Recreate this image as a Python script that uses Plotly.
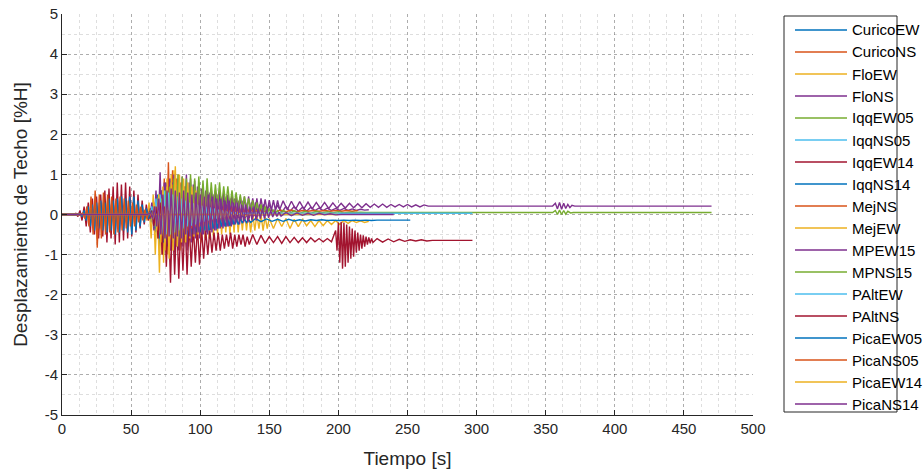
import plotly.graph_objects as go

# ---- data -------------------------------------------------------------------
# Each record: regular segments (t_start, dt, values) + sparse knots (t, value)
series_names = ["CuricoEW", "CuricoNS", "FloEW", "FloNS", "IqqEW05", "IqqNS05",
                "IqqEW14", "IqqNS14", "MejNS", "MejEW", "MPEW15", "MPNS15",
                "PAltEW", "PAltNS", "PicaEW05", "PicaNS05", "PicaEW14", "PicaNS14"]

CuricoEW = dict(segs=[(60, 1.5, [0.05,-0.08,0.15,-0.2,0.3,-0.45,0.5,-0.8,0.6,-1.0,0.7,-0.9,0.55,-0.7,0.6,-0.8,0.5,-0.6,0.45,-0.55,0.4,-0.5,0.35,-0.45,0.3,-0.4,0.3,-0.35,0.25,-0.3,0.2,-0.3,0.2,-0.25,0.15,-0.2,0.15,-0.2,0.1,-0.15,0.1,-0.12,0.08,-0.1,0.05,-0.08,0.05,-0.06,0.03,-0.04])],
                knots=[(0, 0.0), (58, 0.0), (136, 0.0), (180, 0.0)])

CuricoNS = dict(segs=[(62, 1.5, [0.05,-0.1,0.2,-0.3,0.45,-0.6,0.7,-1.0,0.9,-0.8,1.3,-0.9,1.1,-0.7,0.9,-0.6,0.8,-0.5,0.7,-0.5,0.6,-0.45,0.5,-0.4,0.45,-0.35,0.4,-0.3,0.35,-0.3,0.3,-0.25,0.25,-0.2,0.25,-0.2,0.2,-0.15,0.2,-0.12,0.15,-0.1,0.12,-0.08,0.1,-0.06,0.08,-0.05,0.06,-0.04,0.05,-0.03])],
                knots=[(0, 0.0), (60, 0.0), (141, 0.02), (180, 0.02)])

FloEW = dict(segs=[(60, 1.5, [0.05,-0.15,0.3,-0.6,0.5,-1.0,0.4,-1.45,0.6,-1.2,0.8,-1.0,0.9,-0.9,1.1,-0.8,1.0,-0.9,0.8,-0.7,0.7,-0.8,0.6,-0.7,0.6,-0.6,0.5,-0.7,0.5,-0.6,0.45,-0.6,0.4,-0.55,0.35,-0.5,0.3,-0.5,0.3,-0.45,0.25,-0.5,0.2,-0.45,0.2,-0.45,0.15,-0.4,0.1,-0.4,0.05,-0.45,0.05,-0.4,0.0,-0.35,0.0,-0.4,-0.05,-0.35]),
                   (150, 3.0, [-0.1,-0.35,-0.1,-0.3,-0.1,-0.35,-0.12,-0.3,-0.12,-0.28,-0.15,-0.3,-0.15,-0.28,-0.15,-0.25,-0.15,-0.25,-0.15,-0.22,-0.15,-0.2,-0.16,-0.2,-0.17])],
             knots=[(0, 0.0), (58, 0.0)])

FloNS = dict(segs=[(62, 1.5, [0.05,-0.1,0.3,-0.4,0.6,-0.5,1.05,-0.7,0.8,-0.8,0.7,-0.9,0.8,-0.95,0.7,-0.9,0.75,-0.8,0.7,-0.9,0.8,-0.7,0.75,-0.6,0.7,-0.6,0.65,-0.5,0.6,-0.5,0.55,-0.45,0.5,-0.4,0.5,-0.35,0.45,-0.3,0.45,-0.3,0.4,-0.25,0.4,-0.2,0.35,-0.15,0.35,-0.1,0.3,-0.1,0.3,-0.05,0.3,-0.05,0.25,0.0,0.25,0.0]),
                   (150, 3.0, [0.25,0.05,0.22,0.05,0.2,0.08,0.2,0.08,0.18,0.08,0.18,0.1,0.16,0.1,0.16,0.1,0.15,0.1,0.15,0.1,0.14,0.1,0.13,0.11,0.12])],
             knots=[(0, 0.0), (60, 0.0)])

IqqEW05 = dict(segs=[(18, 1.5, [0.05,-0.1,0.15,-0.2,0.25,-0.3,0.3,-0.35,0.3,-0.3,0.35,-0.3,0.3,-0.25,0.3,-0.3,0.25,-0.2,0.2,-0.2,0.15,-0.15,0.12,-0.1,0.08,-0.06,0.05,-0.04])],
               knots=[(0, 0.0), (16, 0.0), (62, 0.0), (100, 0.0)])

IqqNS05 = dict(segs=[(19, 1.5, [0.04,-0.08,0.12,-0.18,0.22,-0.28,0.3,-0.25,0.28,-0.3,0.25,-0.28,0.3,-0.22,0.25,-0.2,0.22,-0.2,0.18,-0.15,0.12,-0.12,0.1,-0.08,0.06,-0.04])],
               knots=[(0, 0.0), (17, 0.0), (60, 0.0), (100, 0.0)])

IqqEW14 = dict(segs=[(10, 1.5, [0.03,-0.05,0.1,-0.15,0.2,-0.3,0.3,-0.45,0.4,-0.5,0.45,-0.6,0.5,-0.55,0.6,-0.7,0.65,-0.6,0.7,-0.75,0.8,-0.7,0.75,-0.65,0.8,-0.6,0.7,-0.55,0.6,-0.45,0.5,-0.35,0.35,-0.25,0.25,-0.15,0.15,-0.1,0.08,-0.05])],
               knots=[(0, 0.0), (8, 0.0), (72, 0.0), (150, 0.0)])

IqqNS14 = dict(segs=[(63, 1.5, [0.05,-0.1,0.2,-0.35,0.4,-0.6,0.5,-0.7,0.55,-0.8,0.5,-0.7,0.45,-0.65,0.4,-0.6,0.35,-0.55,0.3,-0.5,0.25,-0.5,0.2,-0.45,0.15,-0.45,0.1,-0.4,0.05,-0.4,0.0,-0.35,0.0,-0.35,-0.05,-0.3,-0.05,-0.3,-0.08,-0.28,-0.08,-0.25,-0.1,-0.25,-0.1,-0.22,-0.1,-0.2,-0.12,-0.2]),
                     (140, 4.0, [-0.1,-0.18,-0.11,-0.17,-0.12,-0.17,-0.12,-0.16,-0.13,-0.16,-0.13,-0.15,-0.13,-0.15,-0.14,-0.15,-0.14,-0.15,-0.14,-0.15,-0.14,-0.15,-0.14,-0.14,-0.14,-0.14,-0.14,-0.14,-0.14])],
               knots=[(0, 0.0), (61, 0.0)])

MejNS = dict(segs=[(65, 1.5, [0.05,-0.1,0.25,-0.3,0.45,-0.5,0.6,-0.55,0.7,-0.6,0.75,-0.5,0.6,-0.5,0.55,-0.45,0.5,-0.4,0.5,-0.35,0.45,-0.3,0.4,-0.3,0.4,-0.25,0.35,-0.2,0.3,-0.15,0.3,-0.1,0.25,-0.1,0.25,-0.05,0.2,-0.05,0.2,0.0,0.18,0.0,0.15,0.02,0.15,0.03,0.14,0.04,0.13,0.05]),
                   (142, 4.0, [0.12,0.06,0.12,0.06,0.11,0.07,0.11,0.07,0.1,0.08,0.1,0.08,0.1,0.08,0.1,0.08,0.1,0.08,0.1])],
             knots=[(0, 0.0), (63, 0.0)])

MejEW = dict(segs=[(64, 1.5, [0.05,-0.15,0.3,-0.4,0.5,-0.6,0.7,-0.8,0.9,-0.7,1.0,-0.8,0.9,-0.7,0.8,-0.6,0.7,-0.55,0.6,-0.5,0.55,-0.45,0.5,-0.4,0.45,-0.35,0.4,-0.3,0.35,-0.3,0.3,-0.25,0.25,-0.2,0.2,-0.2,0.2,-0.15,0.15,-0.1,0.12,-0.08,0.1,-0.06,0.08,-0.05,0.06,-0.03,0.05,0.0])],
             knots=[(0, 0.0), (62, 0.0), (140, 0.03), (215, 0.03)])

MPEW15 = dict(segs=[(66, 1.5, [0.05,-0.1,0.3,-0.4,0.6,-0.5,0.8,-0.6,0.9,-0.7,1.0,-0.6,0.9,-0.5,0.95,-0.5,1.0,-0.45,0.9,-0.4,0.85,-0.35,0.8,-0.3,0.75,-0.3,0.7,-0.25,0.65,-0.2,0.6,-0.2,0.6,-0.15,0.55,-0.1,0.5,-0.1,0.5,-0.05,0.5,-0.05,0.45,0.0,0.45,0.0,0.45,0.05,0.4,0.05,0.4,0.05,0.4,0.08,0.38,0.08,0.36,0.1,0.36,0.1,0.35,0.12]),
                    (160, 3.0, [0.34,0.12,0.33,0.13,0.32,0.14,0.31,0.14,0.3,0.15,0.3,0.15,0.29,0.16,0.28,0.16,0.28,0.17,0.27,0.17,0.27,0.18,0.26,0.18,0.26,0.18,0.25,0.19,0.25,0.19,0.25,0.19,0.24,0.19,0.24])],
              knots=[(0, 0.0), (64, 0.0), (265, 0.21), (355, 0.21), (357, 0.28), (358.5, 0.14),
                     (360, 0.3), (361.5, 0.13), (363, 0.28), (364.5, 0.15), (366, 0.25),
                     (367.5, 0.17), (369, 0.23), (371, 0.21), (470, 0.21)])

MPNS15 = dict(segs=[(66, 1.5, [0.05,-0.1,0.2,-0.3,0.4,-0.5,0.6,-0.6,0.7,-0.7,0.9,-0.5,1.0,-0.6,0.95,-0.4,0.9,-0.3,1.0,-0.2,0.9,-0.1,0.95,0.0,0.85,0.05,0.9,0.1,0.8,0.15,0.75,0.2,0.8,0.2,0.7,0.25,0.7,0.2,0.6,0.2,0.55,0.15,0.5,0.15,0.45,0.1,0.4,0.1,0.35,0.05,0.3,0.05,0.25,0.02,0.2,0.02,0.15,0.0,0.12,0.02,0.1,0.02]),
                    (160, 4.0, [0.1,0.02,0.09,0.03,0.08,0.03,0.08,0.04,0.07,0.04,0.07,0.04,0.06,0.05,0.06])],
              knots=[(0, 0.0), (64, 0.0), (220, 0.05), (355, 0.05), (357, 0.1), (358.5, 0.0),
                     (360, 0.11), (361.5, 0.0), (363, 0.1), (364.5, 0.01), (366, 0.08),
                     (368, 0.04), (370, 0.05), (470, 0.05)])

PAltEW = dict(segs=[(62, 1.5, [0.05,-0.1,0.2,-0.3,0.4,-0.45,0.5,-0.55,0.6,-0.5,0.55,-0.5,0.5,-0.45,0.45,-0.4,0.4,-0.35,0.35,-0.3,0.3,-0.28,0.28,-0.25,0.25,-0.2,0.22,-0.18,0.2,-0.15,0.18,-0.12,0.15,-0.1,0.12,-0.08,0.1,-0.05,0.08,-0.03,0.06,0.0,0.05,0.01])],
              knots=[(0, 0.0), (60, 0.0), (130, 0.03), (297, 0.03)])

PAltNS = dict(segs=[(62, 1.5, [0.0,-0.1,0.1,-0.3,0.2,-0.6,0.3,-1.0,0.2,-1.3,0.1,-1.7,0.0,-1.5,-0.1,-1.6,-0.2,-1.4,-0.1,-1.5,-0.2,-1.3,-0.3,-1.2,-0.3,-1.25,-0.35,-1.1,-0.4,-1.0,-0.4,-0.95,-0.45,-0.9,-0.45,-0.9,-0.5,-0.85,-0.5,-0.8,-0.45,-0.85,-0.5,-0.8,-0.5,-0.75,-0.5,-0.8,-0.55,-0.75]),
                    (138, 3.0, [-0.5,-0.75,-0.52,-0.72,-0.55,-0.7,-0.55,-0.72,-0.55,-0.7,-0.57,-0.7,-0.58,-0.7,-0.58,-0.68,-0.6,-0.68,-0.6,-0.68]),
                    (198, 1.0, [-0.4,-0.9,-0.2,-1.2,-0.18,-1.35,-0.2,-1.3,-0.25,-1.2,-0.3,-1.1,-0.35,-1.05,-0.4,-0.95,-0.45,-0.9,-0.5,-0.85,-0.52,-0.8,-0.55,-0.75,-0.57,-0.72,-0.6,-0.7]),
                    (228, 4.0, [-0.6,-0.69,-0.61,-0.68,-0.62,-0.67,-0.63,-0.66,-0.63,-0.66])],
              knots=[(0, 0.0), (60, 0.0), (268, -0.645), (297, -0.645)])

PicaEW05 = dict(segs=[(13, 1.5, [0.02,-0.05,0.1,-0.15,0.2,-0.3,0.25,-0.4,0.3,-0.35,0.35,-0.4,0.3,-0.45,0.4,-0.4,0.35,-0.5,0.4,-0.45,0.45,-0.4,0.4,-0.45,0.45,-0.5,0.45,-0.4,0.35,-0.3,0.25,-0.2,0.15,-0.1,0.08,-0.05])],
                knots=[(0, 0.0), (11, 0.0), (68, 0.0), (120, 0.0)])

PicaNS05 = dict(segs=[(15, 1.5, [0.03,-0.1,0.2,-0.3,0.45,-0.5,0.6,-0.83,0.5,-0.6,0.55,-0.5,0.5,-0.45,0.45,-0.5,0.4,-0.45,0.45,-0.4,0.4,-0.35,0.35,-0.3,0.3,-0.3,0.25,-0.2,0.2,-0.15,0.12,-0.1,0.06,-0.04])],
                knots=[(0, 0.0), (13, 0.0), (67, 0.0), (120, 0.0)])

PicaEW14 = dict(segs=[(64, 1.5, [0.05,-0.1,0.25,-0.4,0.5,-0.7,0.6,-0.9,0.7,-1.1,0.8,-0.9,1.2,-0.8,1.0,-0.7,0.9,-0.7,0.8,-0.6,0.7,-0.55,0.6,-0.5,0.5,-0.45,0.45,-0.4,0.4,-0.35,0.35,-0.3,0.3,-0.3,0.25,-0.25,0.2,-0.2,0.15,-0.15,0.1,-0.1,0.08,-0.08,0.05,-0.05])],
                knots=[(0, 0.0), (62, 0.0), (135, 0.0), (200, 0.0)])

PicaNS14 = dict(segs=[(64, 1.5, [0.05,-0.1,0.2,-0.3,0.4,-0.5,0.5,-0.6,0.6,-0.55,0.65,-0.6,0.6,-0.55,0.55,-0.6,0.6,-0.5,0.55,-0.55,0.5,-0.5,0.55,-0.45,0.5,-0.5,0.45,-0.45,0.5,-0.4,0.45,-0.4,0.4,-0.35,0.4,-0.35,0.35,-0.3,0.35,-0.3,0.3,-0.25,0.3,-0.25,0.25,-0.2,0.25,-0.2,0.2,-0.15,0.2,-0.15,0.15,-0.1,0.15,-0.1,0.12,-0.08,0.1,-0.06,0.08,-0.05,0.06,-0.04]),
                      (162, 4.0, [0.05,-0.03,0.04,-0.02,0.03,-0.02,0.03,-0.01,0.02,-0.01])],
                knots=[(0, 0.0), (62, 0.0), (202, 0.0), (240, 0.0)])

records = [CuricoEW, CuricoNS, FloEW, FloNS, IqqEW05, IqqNS05, IqqEW14, IqqNS14,
           MejNS, MejEW, MPEW15, MPNS15, PAltEW, PAltNS, PicaEW05, PicaNS05,
           PicaEW14, PicaNS14]

x_ticks = [0, 50, 100, 150, 200, 250, 300, 350, 400, 450, 500]
y_ticks = [-5, -4, -3, -2, -1, 0, 1, 2, 3, 4, 5]

# ---- style ---------------------------------------------------------------------
matlab_colors = ["#0072BD", "#D95319", "#EDB120", "#7E2F8E", "#77AC30", "#4DBEEE", "#A2142F"]
FONT = "Liberation Sans, Arial, Helvetica, sans-serif"
W, H = 924, 470
L, R, T, B = 62, 753, 14, 415   # plot area in pixels


def build(rec):
    pts = list(rec["knots"])
    for t0, dt, vals in rec["segs"]:
        pts += [(t0 + i * dt, v) for i, v in enumerate(vals)]
    pts.sort(key=lambda p: p[0])
    return [p[0] for p in pts], [p[1] for p in pts]


fig = go.Figure()
for i, (name, rec) in enumerate(zip(series_names, records)):
    t, v = build(rec)
    fig.add_trace(go.Scatter(x=t, y=v, mode="lines", name=name, showlegend=False,
                             line=dict(color=matlab_colors[i % 7], width=1.4)))

axis_common = dict(
    showline=True, linecolor="#262626", linewidth=1,
    ticks="inside", ticklen=5, tickcolor="#262626",
    showgrid=True, gridcolor="rgba(0,0,0,0.22)", gridwidth=1, griddash="dot",
    zeroline=False, mirror=False, automargin=False,
    tickfont=dict(family=FONT, size=15, color="#262626"),
)

fig.update_xaxes(range=[0, 500], tickvals=x_ticks, ticktext=[str(v) for v in x_ticks],
                 minor=dict(dtick=12.5, tick0=0, showgrid=True, gridcolor="rgba(0,0,0,0.13)",
                            griddash="dot", ticks=""),
                 title=dict(text="Tiempo [s]", font=dict(family=FONT, size=19, color="#262626"),
                            standoff=15),
                 **axis_common)
fig.update_yaxes(range=[-5, 5], tickvals=y_ticks, ticktext=[str(v) for v in y_ticks],
                 minor=dict(dtick=0.5, tick0=0, showgrid=True, gridcolor="rgba(0,0,0,0.13)",
                            griddash="dot", ticks=""),
                 title=dict(text="Desplazamiento de Techo [%H]",
                            font=dict(family=FONT, size=19, color="#262626"), standoff=12),
                 **axis_common)

# ---- legend drawn in pixel-based paper coordinates -----------------------------
def px_x(px):
    return (px - L) / (R - L)


def px_y(py):
    return (B - py) / (B - T)


shapes = [dict(type="rect", xref="paper", yref="paper",
               x0=px_x(784), x1=px_x(897), y0=px_y(412), y1=px_y(16),
               line=dict(color="#262626", width=1), fillcolor="white", layer="above")]
annotations = []
for i, name in enumerate(series_names):
    yc = 30 + i * 22
    shapes.append(dict(type="line", xref="paper", yref="paper",
                       x0=px_x(795), x1=px_x(847), y0=px_y(yc), y1=px_y(yc),
                       line=dict(color=matlab_colors[i % 7], width=1.3), layer="above"))
    annotations.append(dict(xref="paper", yref="paper", x=px_x(850), y=px_y(yc),
                            xanchor="left", yanchor="middle", text=name, showarrow=False,
                            font=dict(family=FONT, size=15, color="#000000")))

fig.update_layout(
    width=W, height=H,
    margin=dict(l=L, r=W - R, t=T, b=H - B),
    plot_bgcolor="white", paper_bgcolor="white",
    font=dict(family=FONT, color="#262626"),
    showlegend=False,
    shapes=shapes, annotations=annotations,
)

fig.write_html("out.html", config={"displayModeBar": False},
               post_script="document.body.style.margin='0';document.body.style.padding='0';")
